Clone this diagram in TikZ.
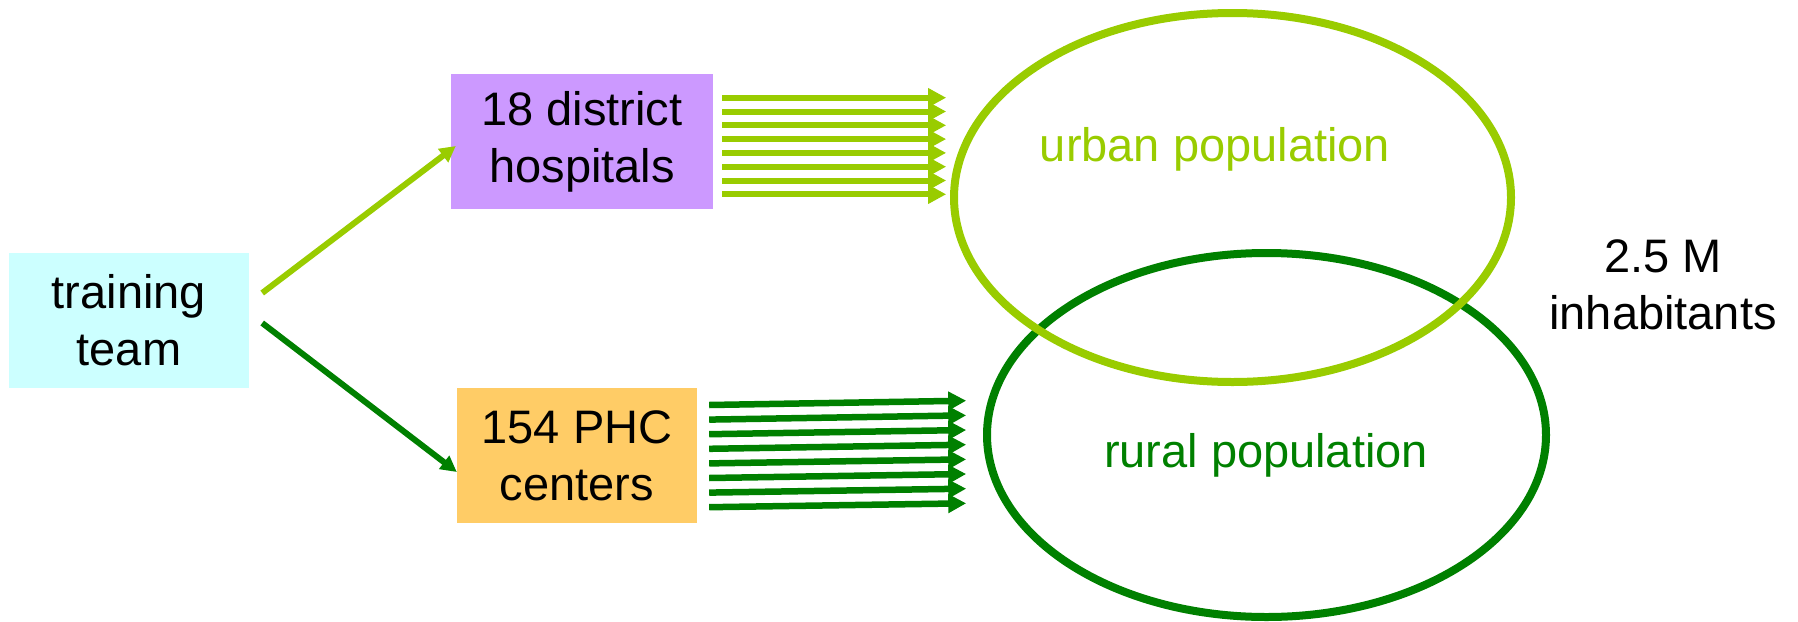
\documentclass[tikz,border=0pt]{standalone}
\usepackage{fontspec}
\setmainfont{Liberation Sans}
\usetikzlibrary{arrows.meta,calc}
\definecolor{lgreen}{HTML}{99CC00}
\definecolor{dgreen}{HTML}{008000}
\definecolor{boxcyan}{HTML}{CCFFFF}
\definecolor{boxpurple}{HTML}{CC99FF}
\definecolor{boxorange}{HTML}{FFCC66}
\begin{document}
\begin{tikzpicture}[x=1pt,y=-1pt,
  txt/.style={font=\fontsize{47}{57}\selectfont, align=center, inner sep=0pt},
  box/.style={txt, minimum width=#1, minimum height=135pt},
  bundleA/.style={lgreen, line width=6pt, -{Triangle[length=18pt,width=18pt]}},
  bundleB/.style={dgreen, line width=6.5pt, -{Triangle[length=18pt,width=18pt]}},
  diagA/.style={lgreen, line width=6pt, -{Triangle[length=16pt,width=16pt]}},
  diagB/.style={dgreen, line width=6pt, -{Triangle[length=16pt,width=16pt]}},
  ell/.style={line width=8pt}]
\useasboundingbox (0,0) rectangle (1798,621);

\node[box=240pt, fill=boxcyan] (train) at (129,320.5) {training\\team};
\node[box=262pt, fill=boxpurple] (hosp) at (582,141.5) {18 district\\hospitals};
\node[box=240pt, fill=boxorange] (phc) at (577,455.5) {154 PHC\\centers};

% ellipses
\draw[ell, dgreen] (1266.5,435) ellipse [x radius=279.5, y radius=182];
\draw[ell, lgreen] (1232.5,197.5) ellipse [x radius=278.5, y radius=184.5];

\node[txt, text=lgreen] (urban) at (1215,149) {urban population};
\node[txt, text=dgreen] (rural) at (1266,455) {rural population};
\node[txt] (inhab) at (1663,285) {2.5 M\\inhabitants};

% diagonal arrows
\draw[diagA] ($(train.east)+(13,-27.5)$) -- ($(hosp.west)+(5,4.5)$);
\draw[diagB] ($(train.east)+(13,2.5)$) -- ($(phc.west)+(0,16.5)$);

% bundles
\foreach \i in {0,...,7}{
  \draw[bundleA] ($(hosp.east)+(9,-43.8+13.8*\i)$) -- ($(hosp.east)+(233,-43.8+13.8*\i)$);
  \draw[bundleB] ($(phc.east)+(12,-50.5+14.6*\i)$) -- ($(phc.east)+(269,-54.8+14.66*\i)$);
}
\end{tikzpicture}
\end{document}
